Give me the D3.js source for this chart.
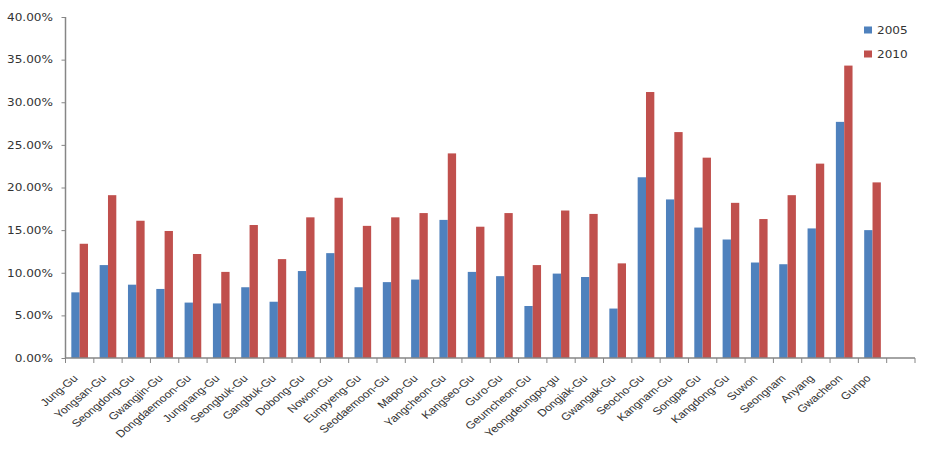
<!DOCTYPE html>
<html><head><meta charset="utf-8">
<script src="https://cdn.jsdelivr.net/npm/d3@7"></script>
<style>body{margin:0;background:#fff}</style>
</head><body>
<svg id="c" width="929" height="453"></svg>
<script>
const categories = ["Jung-Gu","Yongsan-Gu","Seongdong-Gu","Gwangjin-Gu","Dongdaemoon-Gu","Jungnang-Gu","Seongbuk-Gu","Gangbuk-Gu","Dobong-Gu","Nowon-Gu","Eunpyeng-Gu","Seodaemoon-Gu","Mapo-Gu","Yangcheon-Gu","Kangseo-Gu","Guro-Gu","Geumcheon-Gu","Yeongdeungpo-gu","Dongjak-Gu","Gwangak-Gu","Seocho-Gu","Kangnam-Gu","Songpa-Gu","Kangdong-Gu","Suwon","Seongnam","Anyang","Gwacheon","Gunpo",""];
const series = ["2005","2010"];
const values2005 = [7.7,10.9,8.6,8.1,6.5,6.4,8.3,6.6,10.2,12.3,8.3,8.9,9.2,16.2,10.1,9.6,6.1,9.9,9.5,5.8,21.2,18.6,15.3,13.9,11.2,11.0,15.2,27.7,15.0,null];
const values2010 = [13.4,19.1,16.1,14.9,12.2,10.1,15.6,11.6,16.5,18.8,15.5,16.5,17.0,24.0,15.4,17.0,10.9,17.3,16.9,11.1,31.2,26.5,23.5,18.2,16.3,19.1,22.8,34.3,20.6,null];
const yTicks = [0,5,10,15,20,25,30,35,40];
const colors = ["#4F81BD","#C0504D"];

const svg = d3.select("#c");
const mLeft = 65.5, mRight = 915, mTop = 17, mBottom = 358;
const x = d3.scaleBand().domain(categories.map((d,i)=>i)).range([mLeft, mRight]).paddingInner(0).paddingOuter(0);
const y = d3.scaleLinear().domain([0,40]).range([mBottom, mTop]);
const xs = d3.scaleBand().domain(series).range([0, x.bandwidth()]).paddingInner(0).paddingOuter(0.7);
const axisColor = "#868686";
const textColor = "#333";

const data = categories.map((c,i)=>({i, c, v:[values2005[i], values2010[i]]}));

const g = svg.append("g");
g.selectAll("g.grp").data(data).join("g")
  .attr("transform", d=>`translate(${x(d.i)},0)`)
  .selectAll("rect").data(d=>series.map((s,k)=>({s, v:d.v[k], k})).filter(e=>e.v!=null))
  .join("rect")
  .attr("x", e=>xs(e.s))
  .attr("width", xs.bandwidth())
  .attr("y", e=>y(e.v))
  .attr("height", e=>mBottom - y(e.v))
  .attr("fill", e=>colors[e.k]);

// y axis
const ya = svg.append("g").attr("transform", `translate(${mLeft},0)`)
  .call(d3.axisLeft(y).tickValues(yTicks).tickSize(4).tickFormat(d=>d.toFixed(2)+"%"));
ya.select(".domain").attr("stroke", axisColor).attr("stroke-width",1.5).attr("d", `M0,${mTop}V${mBottom}`);
ya.selectAll(".tick line").attr("stroke", axisColor);
ya.selectAll(".tick text").attr("fill", textColor).attr("font-family","DejaVu Sans").attr("font-size","10.5px")
  .attr("x",0).attr("transform","translate(-12.5,0) scale(1.15,1)");

// x axis
const xa = svg.append("g").attr("transform", `translate(0,${mBottom})`);
xa.append("line").attr("x1", mLeft).attr("x2", mRight).attr("stroke", axisColor).attr("stroke-width",1.5);
const bounds = categories.map((d,i)=>x(i)).concat([mRight]);
xa.selectAll("line.tk").data(bounds).join("line").attr("class","tk")
  .attr("x1", d=>d).attr("x2", d=>d).attr("y1",0).attr("y2",5).attr("stroke", axisColor);
xa.selectAll("text").data(data).join("text")
  .attr("transform", d=>`translate(${x(d.i)+x.bandwidth()/2-1},${21}) scale(1.2,1) rotate(-45)`)
  .attr("text-anchor","end")
  .attr("fill", textColor).attr("font-family","Liberation Sans").attr("font-size","10.2px")
  .text(d=>d.c);

// legend
const lg = svg.append("g");
series.forEach((s,k)=>{
  const yy = [30.5, 54.5][k];
  lg.append("rect").attr("x",864).attr("y",yy-4).attr("width",8).attr("height",7).attr("fill",colors[k]);
  lg.append("text").attr("x",0).attr("y",0).attr("dy","0.35em").attr("fill",textColor)
    .attr("transform",`translate(877,${yy}) scale(1.15,1)`)
    .attr("font-family","DejaVu Sans").attr("font-size","10.5px").text(s);
});
</script>
</body></html>
